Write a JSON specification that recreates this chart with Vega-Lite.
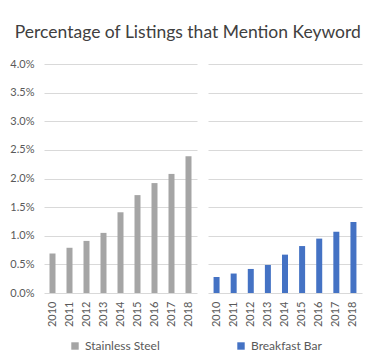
{
  "$schema": "https://vega.github.io/schema/vega-lite/v6.json",
  "background": "white",
  "padding": {"left": 9, "top": 23, "right": 20, "bottom": 0},
  "title": {"text": "Percentage of Listings that Mention Keyword", "font": "Lato", "fontSize": 17.5, "fontWeight": "normal", "color": "#404040", "offset": 17, "dx": 5},
  "config": {
    "view": {"stroke": null},
    "font": "Lato",
    "axis": {"labelFont": "Lato", "labelColor": "#595959", "labelFontSize": 11, "ticks": false, "domain": false, "gridColor": "#D9D9D9", "title": null},
    "legend": {"labelFont": "Lato", "labelColor": "#595959", "labelFontSize": 12, "symbolType": "square", "symbolSize": 55, "title": null}
  },
  "data": {"values": [
    {"keyword": "Stainless Steel", "year": "2010", "pct": 0.0069},
    {"keyword": "Stainless Steel", "year": "2011", "pct": 0.0079},
    {"keyword": "Stainless Steel", "year": "2012", "pct": 0.0091},
    {"keyword": "Stainless Steel", "year": "2013", "pct": 0.0105},
    {"keyword": "Stainless Steel", "year": "2014", "pct": 0.0141},
    {"keyword": "Stainless Steel", "year": "2015", "pct": 0.0171},
    {"keyword": "Stainless Steel", "year": "2016", "pct": 0.0192},
    {"keyword": "Stainless Steel", "year": "2017", "pct": 0.0208},
    {"keyword": "Stainless Steel", "year": "2018", "pct": 0.0239},
    {"keyword": "Breakfast Bar", "year": "2010", "pct": 0.0028},
    {"keyword": "Breakfast Bar", "year": "2011", "pct": 0.0034},
    {"keyword": "Breakfast Bar", "year": "2012", "pct": 0.0042},
    {"keyword": "Breakfast Bar", "year": "2013", "pct": 0.0049},
    {"keyword": "Breakfast Bar", "year": "2014", "pct": 0.0067},
    {"keyword": "Breakfast Bar", "year": "2015", "pct": 0.0082},
    {"keyword": "Breakfast Bar", "year": "2016", "pct": 0.0095},
    {"keyword": "Breakfast Bar", "year": "2017", "pct": 0.0107},
    {"keyword": "Breakfast Bar", "year": "2018", "pct": 0.0124}
  ]},
  "spacing": 11,
  "resolve": {"scale": {"color": "independent"}, "legend": {"color": "independent"}},
  "hconcat": [
    {
      "width": 153, "height": 229,
      "transform": [{"filter": "datum.keyword === 'Stainless Steel'"}],
      "mark": {"type": "bar", "width": 6},
      "encoding": {
        "x": {"field": "year", "type": "ordinal", "scale": {"paddingInner": 0.65, "paddingOuter": 0.325}, "axis": {"labelAngle": -90, "labelPadding": 8}},
        "y": {"field": "pct", "type": "quantitative", "scale": {"domain": [0, 0.04]}, "axis": {"format": ".1%", "values": [0, 0.005, 0.01, 0.015, 0.02, 0.025, 0.03, 0.035, 0.04], "labelPadding": 10}},
        "color": {"field": "keyword", "type": "nominal", "scale": {"range": ["#A5A5A5"]}, "legend": {"orient": "none", "legendX": 25, "legendY": 276}}
      }
    },
    {
      "width": 154, "height": 229,
      "transform": [{"filter": "datum.keyword === 'Breakfast Bar'"}],
      "mark": {"type": "bar", "width": 6},
      "encoding": {
        "x": {"field": "year", "type": "ordinal", "scale": {"paddingInner": 0.65, "paddingOuter": 0.325}, "axis": {"labelAngle": -90, "labelPadding": 8}},
        "y": {"field": "pct", "type": "quantitative", "scale": {"domain": [0, 0.04]}, "axis": {"labels": false, "values": [0, 0.005, 0.01, 0.015, 0.02, 0.025, 0.03, 0.035, 0.04]}},
        "color": {"field": "keyword", "type": "nominal", "scale": {"range": ["#4472C4"]}, "legend": {"orient": "none", "legendX": 27, "legendY": 276}}
      }
    }
  ]
}
